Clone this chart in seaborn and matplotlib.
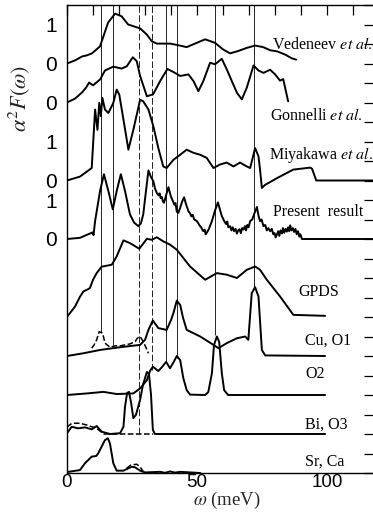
import numpy as np
import pandas as pd
import matplotlib
matplotlib.use("Agg")
import matplotlib.pyplot as plt
import seaborn as sns

sns.set_theme(style="white")
plt.rcParams['font.family'] = ['Liberation Sans', 'DejaVu Sans']
plt.rcParams['mathtext.fontset'] = 'stix'

# ---------------- data (meV, spectral value) ----------------
vedeneev_mev = [0, 3.1, 5.8, 7.7, 9.6, 12.7, 15.8, 18.5, 21.0, 23.5, 25.8, 28.1, 30.7, 32.6, 34.5,
                39.6, 42.7, 46.0, 49.9, 53.1, 56.9, 60.0, 62.7, 65.8, 69.1, 72.3, 75.4, 78.1, 80.8,
                83.8, 86.5, 88.1]
vedeneev_val = [0, 0.08, 0.18, 0.21, 0.26, 0.44, 1.05, 1.28, 1.21, 1.0, 0.95, 0.90, 0.74, 0.57, 0.51,
                0.51, 0.47, 0.42, 0.53, 0.62, 0.53, 0.36, 0.26, 0.32, 0.40, 0.46, 0.42, 0.34, 0.31,
                0.23, 0.13, 0.10]

gonnelli_mev = [0, 3.1, 5.8, 7.3, 8.5, 10.0, 12.7, 14.6, 17.8, 21.0, 23.0, 25.3, 26.8, 28.1, 30.7,
                33.1, 35.8, 38.6, 41.5, 43.5, 46.7, 48.6, 50.5, 52.4, 55.0, 56.9, 59.5, 61.4, 65.3,
                67.2, 69.1, 71.7, 73.6, 75.5, 78.1, 80.0, 81.9, 83.1, 85.0]
gonnelli_val = [0, 0.10, 0.26, 0.38, 0.51, 0.44, 0.59, 0.82, 0.92, 0.87, 0.93, 1.16, 1.06, 0.68, 0.16,
                0.21, 0.55, 0.86, 0.76, 0.68, 0.72, 0.55, 0.29, 0.55, 1.02, 0.98, 1.12, 0.85, 0.25,
                0.08, 0.38, 0.95, 0.82, 0.76, 0.84, 0.72, 0.56, 0.60, 0.03]

miyakawa_mev = [0, 5.0, 9.5, 10.8, 11.7, 12.4, 13.0, 13.6, 14.6, 15.9, 17.8, 19.1, 20.1, 21.7, 23.6,
                25.5, 28.1, 29.3, 31.3, 33.2, 35.1, 37.0, 38.3, 40.9, 43.5, 46.0, 48.6, 51.2, 53.7,
                56.3, 58.8, 61.4, 64.0, 66.5, 69.1, 70.4, 72.3, 73.6, 74.2, 74.9, 76.2, 80.7, 87.0,
                93.5, 94.2, 95.8, 118.0]
miyakawa_val = [0, 0.10, 0.32, 1.82, 1.30, 1.99, 1.65, 2.12, 1.82, 1.73, 1.99, 2.33, 2.20, 1.56, 0.79,
                1.30, 2.07, 2.03, 1.82, 1.39, 0.83, 0.36, 0.32, 0.53, 0.66, 0.79, 0.71, 0.66, 0.58,
                0.32, 0.41, 0.46, 0.36, 0.46, 0.36, 0.32, 0.83, 0.62, 0.28, -0.19, -0.11, 0.06, 0.28,
                0.33, 0.30, 0.0, 0.0]

present_mev = [0, 5, 8.1, 9.9, 10.2, 10.8, 12.7, 14.2, 15.9, 17.6, 19.1, 20.7, 22.3, 24.2, 25.8, 27.4,
               28.4, 29.3, 30.3, 31.3, 32.2, 33.2, 33.8, 34.5, 35.2, 35.6, 36.0, 36.4, 36.9, 37.3,
               38.2, 39.0, 39.8, 40.2, 40.7, 41.3, 41.7, 42.2, 42.8, 43.5, 44.2, 45.0, 45.8, 46.7,
               47.3, 47.8, 48.3, 48.9, 49.9, 50.5, 51.0, 51.6, 52.0, 52.4, 52.9, 53.3, 53.7, 54.5,
               55.7, 57.0, 58.0, 58.8, 59.5, 60.5, 61.2, 61.6, 62.0, 62.7, 63.2, 63.7, 64.2, 64.8,
               65.3, 65.8, 66.3, 66.8, 67.3, 67.8, 68.4, 68.8, 69.3, 69.8, 70.4, 71.2, 72.0, 73.0,
               73.6, 74.2, 74.8, 75.5, 76.2, 76.8, 77.4, 78.1, 78.7, 79.3, 79.8, 80.2, 80.7, 81.2,
               81.6, 82.1, 82.6, 83.0, 83.5, 84.0, 84.5, 85.0, 85.4, 85.8, 86.3, 86.8, 87.3, 87.8,
               88.3, 88.8, 89.3, 89.7, 90.3, 118.0]
present_val = [0, 0.03, 0.12, 0.17, 0.10, 0.46, 1.23, 1.66, 1.23, 0.76, 1.23, 1.66, 1.23, 0.63, 0.42, 0.33,
               0.40, 0.63, 1.20, 1.76, 1.60, 1.48, 1.30, 1.18, 1.12, 1.17, 1.05, 1.08, 0.96, 0.93,
               1.15, 1.33, 1.12, 1.05, 0.97, 0.88, 0.92, 0.70, 0.67, 0.80, 0.95, 1.07, 0.88, 0.71,
               0.66, 0.58, 0.62, 0.50, 0.46, 0.40, 0.34, 0.30, 0.24, 0.20, 0.24, 0.12, 0.16, 0.25,
               0.46, 0.75, 0.94, 0.75, 0.59, 0.45, 0.38, 0.45, 0.30, 0.33, 0.22, 0.30, 0.20, 0.26,
               0.14, 0.22, 0.25, 0.15, 0.28, 0.24, 0.33, 0.22, 0.36, 0.30, 0.46, 0.50, 0.65, 0.82,
               0.60, 0.46, 0.50, 0.33, 0.36, 0.22, 0.28, 0.20, 0.26, 0.12, 0.15, 0.04, 0.12, 0.20,
               0.08, 0.22, 0.14, 0.28, 0.16, 0.26, 0.19, 0.30, 0.20, 0.35, 0.22, 0.28, 0.18, 0.26,
               0.12, 0.20, 0.06, 0.12, 0.0, 0.0]

gpds_mev = [0, 3.1, 5.0, 6.3, 7.7, 8.8, 10.0, 11.4, 13.3, 17.2, 19.1, 21.7, 24.2, 27.8, 30.7, 32.6,
            34.5, 37.0, 39.6, 42.2, 47.3, 53.1, 57.6, 61.4, 65.3, 69.1, 72.3, 74.2, 76.8, 81.9, 87.0,
            99.2]
gpds_val = [0, 0.54, 1.04, 1.31, 1.40, 1.48, 1.91, 2.25, 2.58, 2.68, 3.11, 3.93, 3.79, 3.50, 4.01, 3.96,
            4.09, 3.88, 3.71, 3.45, 2.59, 1.91, 2.25, 2.17, 2.00, 2.42, 2.59, 2.42, 1.91, 1.05, 0.11,
            0.06]

cuo1_mev = [0, 6.3, 12.7, 20.4, 28.1, 30.0, 31.3, 33.0, 35.1, 38.3, 40.0, 40.9, 42.2, 43.5, 44.6, 46.0,
            51.2, 56.3, 58.2, 61.4, 65.3, 68.5, 69.7, 71.0, 72.3, 73.6, 74.9, 76.2, 99.2]
cuo1_val = [0, 0.14, 0.31, 0.45, 0.57, 0.83, 1.34, 1.82, 1.43, 1.34, 1.85, 2.20, 2.84, 2.62, 1.96, 1.34,
            1.00, 0.57, 0.40, 0.66, 0.91, 1.00, 0.83, 3.22, 3.53, 3.05, 0.31, 0.03, 0.0]
cuo1_dash_mev = [9.5, 10.4, 11.4, 12.4, 13.7, 14.6, 16.5, 18.5, 20.4, 22.3, 24.2, 26.2, 27.0, 28.1, 29.3,
                 30.4, 31.3]
cuo1_dash_val = [0.40, 0.57, 0.83, 1.25, 1.17, 0.66, 0.45, 0.52, 0.52, 0.57, 0.62, 0.74, 0.91, 1.00, 0.74,
                 0.42, 0.14]

o2_mev = [0, 7.6, 14.0, 19.1, 25.5, 28.1, 30.7, 31.9, 33.0, 35.1, 36.5, 38.1, 39.6, 41.0, 42.2, 43.5,
          44.7, 46.0, 47.3, 53.1, 54.3, 55.7, 56.5, 57.6, 58.5, 59.5, 60.4, 61.9, 99.2]
o2_val = [0, 0.08, 0.16, 0.05, 0.08, 0.34, 0.76, 1.23, 1.45, 1.23, 1.43, 1.70, 1.37, 1.69, 2.00, 1.79,
          0.87, 0.25, 0.02, 0.0, 0.15, 1.11, 2.56, 3.00, 2.72, 1.12, 0.25, 0.0, 0.0]

bio3_mev = [0, 1.8, 4.3, 6.9, 9.5, 11.4, 13.3, 16.5, 20.4, 21.7, 22.3, 23.1, 23.8, 24.6, 25.5, 26.5,
            28.1, 29.2, 30.7, 31.5, 32.3, 33.0, 33.8, 99.2]
bio3_val = [0.04, 0.37, 0.29, 0.34, 0.24, 0.41, 0.12, 0.0, 0.04, 0.37, 1.40, 2.10, 2.16, 1.64, 0.81, 0.98,
            1.75, 2.52, 3.18, 3.08, 2.00, 0.21, 0.0, 0.0]
bio3_dash_mev = [0, 1.9, 5.0, 7.6, 9.5, 11.2, 12.7, 14.2, 33.1]
bio3_dash_val = [0.36, 0.55, 0.55, 0.46, 0.37, 0.31, 0.15, 0.0, 0.0]

srca_mev = [0, 5.0, 6.9, 9.5, 11.2, 12.0, 13.3, 14.6, 15.7, 16.5, 17.8, 19.1, 21.7, 23.6, 24.9, 26.2,
            28.1, 30.0, 35.8, 37.7, 39.6, 41.5, 43.5, 47.3, 51.2]
srca_val = [0.05, 0.15, 0.50, 0.84, 0.87, 1.01, 1.35, 1.69, 1.78, 1.52, 0.50, 0.12, 0.12, 0.24, 0.32, 0.29,
            0.12, 0.03, 0.06, 0.01, 0.08, 0.02, 0.06, 0.03, 0.0]
srca_dash_mev = [22.9, 24.6, 26.8, 28.1, 29.2]
srca_dash_val = [0.24, 0.41, 0.45, 0.31, 0.10]

series_labels = ["Vedeneev", "Gonnelli", "Miyakawa", "Present  result", "GPDS", "Cu, O1", "O2",
                 "Bi, O3", "Sr, Ca"]
peak_lines_mev = [12.9, 17.7, 27.8, 32.7, 38.1, 42.3, 56.9, 71.9]

# ---------------- layout ----------------
# (baseline position in tick units, tick units per data unit)
curves = [
    (vedeneev_mev, vedeneev_val, 21, 2, '-'),
    (gonnelli_mev, gonnelli_val, 19, 2, '-'),
    (miyakawa_mev, miyakawa_val, 15, 2, '-'),
    (present_mev, present_val, 12, 2, '-'),
    (gpds_mev, gpds_val, 8, 1, '-'),
    (cuo1_mev, cuo1_val, 6, 1, '-'),
    (cuo1_dash_mev, cuo1_dash_val, 6, 1, '--'),
    (o2_mev, o2_val, 4, 1, '-'),
    (bio3_mev, bio3_val, 2, 1, '-'),
    (bio3_dash_mev, bio3_dash_val, 2, 1, '--'),
    (srca_mev, srca_val, 0, 1, '-'),
    (srca_dash_mev, srca_dash_val, 0, 1, '--'),
]
peak_lines_bottom = [7.25, 6.55, 2.0, 5.3, 5.65, 5.9, 7.1, 9.55]
peak_lines_style = ['-', '-', (0, (8, 3)), (0, (8, 3)), '-', '-', '-', '-']

W, H = 373, 512
fig = plt.figure(figsize=(W / 100, H / 100), dpi=100)
ax = fig.add_axes([67 / W, 39 / H, 307 / W, 468 / H])
ax.set_facecolor('white')

for xs, lo, ls in zip(peak_lines_mev, peak_lines_bottom, peak_lines_style):
    ax.vlines(xs, lo, 24, colors='black', linewidth=0.6, linestyles=ls, zorder=1)

for mev, val, base, scale, ls in curves:
    df = pd.DataFrame({'meV': mev, 'y': base + scale * np.asarray(val, dtype=float)})
    sns.lineplot(data=df, x='meV', y='y', ax=ax, color='black', linewidth=1.4 if ls == '-' else 1.1,
                 linestyle=ls, sort=False, estimator=None, zorder=3)

ax.set_xlim(0, 118)
ax.set_ylim(0, 24)

# ticks
ax.set_xticks([0, 50, 100])
ax.set_xticklabels(['0', '50', '100'])
ax.set_xticks(np.arange(0, 120, 10), minor=True)
ax.set_yticks(np.arange(0, 25, 1))
ylab = {23: '1', 21: '0', 19: '0', 17: '1', 15: '0', 14: '1', 12: '0'}
ax.set_yticklabels([ylab.get(i, '') for i in range(25)])
ax.tick_params(axis='both', which='both', direction='in', top=True, right=True,
               length=7, width=0.9, colors='black')
ax.tick_params(axis='x', which='major', labelsize=13.5, pad=1)
ax.tick_params(axis='y', which='major', labelsize=15, pad=7)
for lbl in ax.get_xticklabels() + ax.get_yticklabels():
    lbl.set_fontfamily(['Liberation Sans', 'DejaVu Sans'])
for s in ax.spines.values():
    s.set_color('black')
    s.set_linewidth(1.0)

ax.set_xlabel('')
fig.text(227 / W, 1 - 500 / H, r'$\omega$ (meV)', fontsize=13.5, family='Liberation Serif',
         ha='center', va='center')
ax.set_ylabel(r'$\alpha^2F(\omega)$', fontsize=16)
ax.yaxis.set_label_coords(-0.115, 0.8)

# series labels
tfont = dict(family='Liberation Serif', fontsize=11.5, color='black', va='center', ha='left')
ax.text(78.8, 21.95, series_labels[0] + r' $\it{et\ al.}$', **tfont)
ax.text(78.0, 18.3, series_labels[1] + r' $\it{et\ al.}$', **tfont)
ax.text(77.8, 16.3, series_labels[2] + r' $\it{et\ al.}$', **tfont)
ax.text(79.0, 13.4, series_labels[3], **tfont)
ax.text(88.8, 9.3, series_labels[4], **tfont)
ax.text(91.5, 6.8, series_labels[5], **tfont)
ax.text(91.5, 5.1, series_labels[6], **tfont)
ax.text(91.5, 2.46, series_labels[7], **tfont)
ax.text(91.5, 0.56, series_labels[8], **tfont)

fig.savefig('out.png', dpi=100, facecolor='white')
